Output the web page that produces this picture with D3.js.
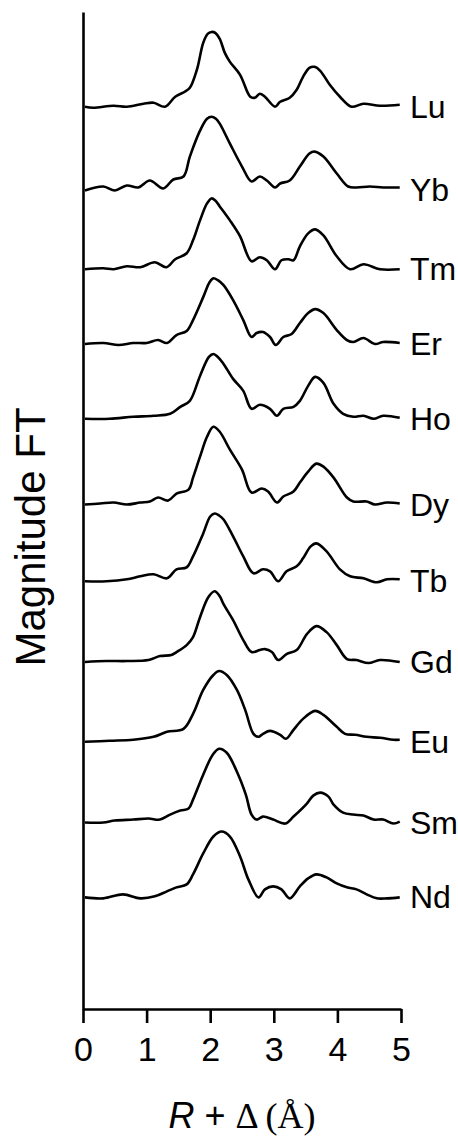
<!DOCTYPE html>
<html>
<head>
<meta charset="utf-8">
<script src="https://cdn.jsdelivr.net/npm/d3@7"></script>
<style>
  body { margin: 0; background: #fff; }
  svg { display: block; font-family: "Liberation Sans", Arial, sans-serif; }
</style>
</head>
<body>
<svg width="458" height="1136"></svg>
<script>
// element labels, top to bottom
var names = ["Lu", "Yb", "Tm", "Er", "Ho", "Dy", "Tb", "Gd", "Eu", "Sm", "Nd"];
// vertical offset of each trace (arbitrary units)
var offsets = [90.5, 82.1, 74.2, 66.7, 59.2, 50.6, 42.9, 34.8, 26.8, 18.7, 11.2];
var xTicks = [0, 1, 2, 3, 4, 5];

// [R + delta (A), magnitude]
var lu = [[0.03,0],[0.16,-0.1],[0.48,0.1],[0.69,0],[0.95,0.3],[1.11,0.4],[1.29,0],[1.45,1.0],[1.60,1.5],[1.68,1.9],[1.79,3.7],[1.89,6.4],[1.96,7.3],[2.02,7.5],[2.08,7.4],[2.15,6.8],[2.23,5.4],[2.31,4.5],[2.47,3.2],[2.63,1.0],[2.70,0.9],[2.78,1.3],[2.86,1.0],[3.02,0],[3.10,0.5],[3.25,0.9],[3.36,1.7],[3.46,3.0],[3.56,3.9],[3.64,4.0],[3.73,3.6],[3.88,2.2],[4.04,1.0],[4.22,0],[4.41,0.3],[4.67,0.1],[4.98,0.2]];
var yb = [[0.03,0],[0.32,0.4],[0.50,0],[0.69,0.5],[0.87,0.3],[1.05,1.0],[1.26,0.2],[1.42,1.1],[1.58,1.4],[1.68,3.4],[1.84,6.0],[1.95,7.2],[2.02,7.4],[2.09,7.2],[2.15,6.7],[2.31,4.7],[2.50,2.4],[2.65,0.9],[2.78,1.4],[2.89,1.0],[3.02,0.3],[3.10,0.7],[3.25,1.0],[3.41,2.4],[3.56,3.7],[3.64,3.9],[3.78,3.4],[3.99,1.7],[4.17,0.4],[4.30,0.3],[4.51,0.4],[4.72,0.3],[4.98,0.3]];
var tm = [[0.03,0],[0.32,0.1],[0.48,0],[0.69,0.3],[0.90,0.2],[1.13,0.7],[1.31,0.2],[1.45,1.0],[1.63,1.6],[1.73,2.9],[1.84,4.9],[1.95,6.6],[2.02,7.1],[2.08,6.9],[2.15,6.3],[2.31,4.9],[2.47,3.3],[2.65,0.8],[2.78,1.2],[2.89,0.9],[3.02,0],[3.12,0.9],[3.23,1.0],[3.31,0.9],[3.41,2.3],[3.54,3.6],[3.65,4.0],[3.78,3.4],[3.99,1.3],[4.20,0],[4.41,0.5],[4.67,0],[4.98,0]];
var er = [[0.03,0],[0.32,0.1],[0.56,-0.1],[0.79,0.1],[1.00,0.1],[1.18,0.4],[1.32,0.1],[1.47,0.9],[1.63,1.3],[1.73,2.4],[1.89,4.7],[1.99,6.2],[2.05,6.6],[2.12,6.4],[2.21,5.9],[2.36,4.4],[2.52,2.4],[2.65,0.7],[2.73,1.1],[2.83,1.2],[2.94,0.7],[3.03,-0.1],[3.15,0.7],[3.28,1.0],[3.41,2.1],[3.54,3.1],[3.65,3.5],[3.78,3.1],[3.99,1.4],[4.15,0.4],[4.25,0.2],[4.41,0.6],[4.59,0],[4.72,0.2],[4.98,0.1]];
var ho = [[0.03,0],[0.42,0],[0.79,0.2],[1.11,0.3],[1.37,0.5],[1.53,1.2],[1.68,1.8],[1.84,4.3],[1.98,6.2],[2.05,6.5],[2.12,6.2],[2.20,5.6],[2.36,4.0],[2.52,2.8],[2.65,1.0],[2.78,1.4],[2.94,1.0],[3.05,0.3],[3.15,1.0],[3.31,1.2],[3.41,1.8],[3.54,3.3],[3.65,4.2],[3.78,3.6],[3.94,1.5],[4.09,0.5],[4.25,0.2],[4.41,0.3],[4.57,0],[4.72,0.3],[4.98,0.1]];
var dy = [[0.03,0],[0.27,0.1],[0.48,0.2],[0.69,0],[0.90,0.2],[1.05,0.3],[1.18,0.7],[1.34,0.4],[1.47,1.1],[1.66,1.5],[1.73,2.7],[1.84,4.8],[1.95,6.8],[2.05,7.8],[2.15,7.3],[2.31,5.5],[2.50,3.5],[2.65,1.2],[2.81,1.6],[2.91,1.3],[3.05,0.2],[3.15,0.8],[3.31,1.3],[3.41,2.2],[3.54,3.3],[3.67,4.1],[3.78,3.8],[3.94,2.7],[4.15,0.7],[4.25,0.3],[4.46,0.3],[4.59,0],[4.78,0.2],[4.98,0.1]];
var tb = [[0.03,0],[0.37,0],[0.69,0.2],[0.90,0.5],[1.11,0.7],[1.32,0.3],[1.47,1.2],[1.63,1.4],[1.73,2.5],[1.89,4.8],[2.00,6.5],[2.07,6.8],[2.14,6.6],[2.21,6.2],[2.36,4.5],[2.52,2.5],[2.68,0.8],[2.83,1.2],[2.94,1.0],[3.07,0],[3.20,1.0],[3.36,1.5],[3.46,2.3],[3.58,3.5],[3.67,3.8],[3.83,3.0],[4.04,1.2],[4.20,0.5],[4.41,0.3],[4.62,-0.1],[4.78,0.2],[4.98,0.2]];
var gd = [[0.03,0],[0.37,0.1],[0.69,0.1],[1.03,0.2],[1.21,0.6],[1.39,0.7],[1.47,1.0],[1.63,1.7],[1.73,2.5],[1.84,4.5],[1.97,6.5],[2.07,7.1],[2.15,6.6],[2.21,5.8],[2.36,4.2],[2.52,2.2],[2.65,1.0],[2.78,1.2],[2.86,1.3],[2.97,1.0],[3.07,0.2],[3.20,0.8],[3.36,1.2],[3.52,2.8],[3.67,3.6],[3.83,3.0],[3.99,1.7],[4.15,0.3],[4.30,0.2],[4.49,-0.1],[4.67,0.2],[4.98,0]];
var eu = [[0.03,0],[0.42,0.1],[0.79,0.2],[1.11,0.5],[1.32,1.0],[1.58,1.3],[1.73,2.8],[1.89,5.2],[2.05,6.7],[2.14,7.1],[2.26,6.7],[2.42,5.2],[2.55,3.2],[2.68,0.8],[2.76,0.5],[2.83,0.8],[2.94,1.1],[3.10,0.7],[3.19,0.3],[3.31,1.2],[3.46,2.3],[3.65,3.1],[3.78,2.7],[3.99,1.5],[4.12,0.8],[4.28,0.7],[4.46,0.5],[4.67,0.4],[4.88,0.2],[4.98,0.2]];
var sm = [[0.03,0],[0.32,0],[0.50,0.2],[0.79,0.3],[1.03,0.4],[1.21,0.3],[1.37,0.8],[1.53,1.2],[1.66,1.4],[1.73,2.3],[1.89,4.8],[2.04,6.8],[2.14,7.4],[2.26,7.0],[2.42,5.1],[2.56,2.8],[2.65,0.8],[2.73,0.3],[2.83,0.6],[2.99,0.3],[3.18,-0.1],[3.31,0.6],[3.52,1.9],[3.62,2.7],[3.73,3.0],[3.86,2.6],[3.94,1.8],[4.09,1.0],[4.25,0.8],[4.41,0.7],[4.57,0.3],[4.72,0.3],[4.88,-0.1],[4.98,0.1]];
var nd = [[0.03,0],[0.32,-0.1],[0.63,0.3],[0.90,-0.1],[1.13,0.1],[1.32,0.6],[1.47,1.0],[1.63,1.3],[1.73,2.3],[1.89,4.4],[2.05,6.1],[2.18,6.6],[2.31,6.1],[2.47,4.1],[2.60,1.8],[2.76,0],[2.86,0.8],[2.99,1.1],[3.12,0.8],[3.25,-0.1],[3.41,1.1],[3.54,1.9],[3.67,2.3],[3.83,2.0],[3.99,1.4],[4.15,1.0],[4.30,0.8],[4.46,0.3],[4.62,-0.1],[4.78,-0.1],[4.98,0]];

var traces = [lu, yb, tm, er, ho, dy, tb, gd, eu, sm, nd];

var svg = d3.select("svg");

var xScale = d3.scaleLinear().domain([0, 5]).range([83, 401]);
var yScale = d3.scaleLinear().domain([0, 100]).range([1009, 12]);

var line = d3.line()
    .x(function(d) { return xScale(d[0]); })
    .y(function(d) { return yScale(d[1]); })
    .curve(d3.curveCatmullRom.alpha(0.5));

var series = names.map(function(n, i) {
  return {
    name: n,
    values: traces[i].map(function(p) { return [p[0], p[1] + offsets[i]]; })
  };
});

svg.selectAll(".trace")
    .data(series)
    .enter()
    .append("path")
    .attr("class", "trace")
    .attr("d", function(d) { return line(d.values); })
    .attr("fill", "none")
    .attr("stroke", "#000")
    .attr("stroke-width", 2.6)
    .attr("stroke-linejoin", "round");

svg.selectAll(".label")
    .data(series)
    .enter()
    .append("text")
    .attr("class", "label")
    .attr("x", xScale(5) + 9)
    .attr("y", function(d) { return yScale(d.values[0][1]) + 11; })
    .attr("font-size", 32)
    .text(function(d) { return d.name; });

// x axis
var xAxis = svg.append("g")
    .attr("transform", "translate(0," + yScale(0) + ")")
    .call(d3.axisBottom(xScale).tickValues(xTicks).tickFormat(d3.format("d"))
      .tickSize(14).tickSizeOuter(0).tickPadding(14));
xAxis.selectAll("path, line").attr("stroke", "#000").attr("stroke-width", 2.6);
xAxis.selectAll("text")
    .attr("font-family", "Liberation Sans, Arial, sans-serif")
    .attr("font-size", 34)
    .attr("fill", "#000");

// y axis, no ticks
var yAxis = svg.append("g")
    .attr("transform", "translate(" + xScale(0) + ",0)")
    .call(d3.axisLeft(yScale).tickValues([]).tickSizeOuter(0));
yAxis.select("path").attr("stroke", "#000").attr("stroke-width", 2.6);

// axis titles
var xt = svg.append("text")
    .attr("x", (xScale(0) + xScale(5)) / 2)
    .attr("y", 1128)
    .attr("text-anchor", "middle")
    .attr("font-size", 36);
xt.append("tspan").attr("font-style", "italic").text("R");
xt.append("tspan").text(" + ");
xt.append("tspan").attr("font-family", "Liberation Serif, Times New Roman, serif").text("Δ (Å)");

svg.append("text")
    .attr("transform", "translate(45," + 537 + ") rotate(-90)")
    .attr("text-anchor", "middle")
    .attr("font-size", 42)
    .text("Magnitude FT");
</script>
</body>
</html>
